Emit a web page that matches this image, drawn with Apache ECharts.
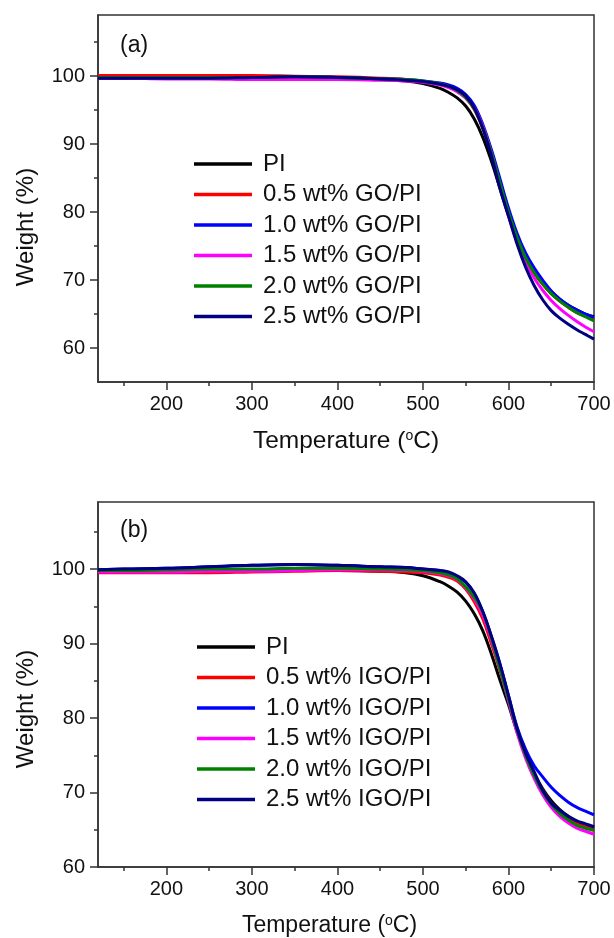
<!DOCTYPE html>
<html>
<head>
<meta charset="utf-8">
<script src="https://cdn.jsdelivr.net/npm/echarts@6/dist/echarts.min.js"></script>
<style>
html,body{margin:0;padding:0;background:#fff;}
#chart{width:614px;height:938px;}
</style>
</head>
<body>
<div id="chart"></div>
<script>
// ---- Data ----
const temps = [120,150,200,250,300,350,400,450,480,500,520,530,540,550,560,570,580,590,600,610,620,630,640,650,660,670,680,690,700];

const namesA = ['PI','0.5 wt% GO/PI','1.0 wt% GO/PI','1.5 wt% GO/PI','2.0 wt% GO/PI','2.5 wt% GO/PI'];
const namesB = ['PI','0.5 wt% IGO/PI','1.0 wt% IGO/PI','1.5 wt% IGO/PI','2.0 wt% IGO/PI','2.5 wt% IGO/PI'];

// Panel (a)
const a_PI   = [99.7,99.7,99.7,99.7,99.8,99.9,99.8,99.5,99.3,98.9,98.2,97.6,96.8,95.6,93.7,91.0,87.5,83.5,79.5,76.0,73.3,71.3,69.7,68.3,67.2,66.3,65.6,65.0,64.6];
const a_GO05 = [100.1,100.1,100.1,100.1,100.1,100.0,99.9,99.7,99.5,99.2,98.8,98.4,97.8,96.8,95.1,92.3,88.6,84.3,80.0,76.3,73.3,71.1,69.4,68.0,66.9,66.0,65.2,64.7,64.2];
const a_GO10 = [99.8,99.8,99.8,99.8,99.8,99.9,99.8,99.6,99.5,99.3,99.0,98.7,98.2,97.3,95.7,92.9,89.2,84.9,80.6,76.9,74.0,71.8,70.0,68.4,67.2,66.3,65.6,65.0,64.5];
const a_GO15 = [99.7,99.7,99.6,99.6,99.5,99.5,99.5,99.4,99.3,99.1,98.7,98.3,97.7,96.8,95.3,92.6,88.7,84.1,79.5,75.6,72.6,70.3,68.5,67.0,65.8,64.8,63.9,63.1,62.4];
const a_GO20 = [99.8,99.8,99.8,99.8,99.8,99.9,99.8,99.6,99.5,99.3,98.9,98.5,97.9,96.9,95.2,92.4,88.7,84.3,80.0,76.3,73.3,71.1,69.4,68.0,66.9,66.0,65.2,64.6,64.0];
const a_GO25 = [99.7,99.7,99.7,99.7,99.8,99.9,99.8,99.6,99.4,99.2,98.8,98.5,98.0,97.1,95.3,92.3,88.3,83.5,79.4,75.3,71.9,69.2,67.1,65.5,64.4,63.5,62.7,62.0,61.3];

// Panel (b)
const b_PI    = [99.6,99.6,99.6,99.6,99.7,99.8,99.8,99.7,99.5,99.1,98.3,97.7,96.9,95.7,94.0,91.7,88.6,85.1,81.8,78.2,75.2,72.6,70.5,68.9,67.7,66.8,66.1,65.7,65.3];
const b_IGO05 = [99.5,99.5,99.5,99.5,99.6,99.7,99.8,99.7,99.6,99.5,99.2,98.9,98.4,97.3,95.6,93.3,90.0,86.4,82.5,78.5,75.2,72.5,70.3,68.6,67.4,66.5,65.8,65.4,65.0];
const b_IGO10 = [99.9,100.0,100.1,100.3,100.5,100.6,100.5,100.3,100.2,100.0,99.8,99.5,99.0,98.2,96.7,94.2,90.9,87.2,83.0,78.8,75.8,73.6,72.1,70.7,69.6,68.7,68.0,67.5,67.0];
const b_IGO15 = [99.6,99.6,99.6,99.7,99.7,99.8,99.9,99.9,99.8,99.7,99.4,99.1,98.6,97.5,96.0,93.8,90.5,86.5,82.3,78.0,74.6,71.9,69.7,68.0,66.8,65.9,65.2,64.8,64.4];
const b_IGO20 = [99.8,99.8,99.9,100.0,100.0,100.1,100.1,100.0,99.9,99.8,99.5,99.2,98.7,97.6,96.2,94.2,90.8,86.6,82.6,78.4,75.0,72.3,70.1,68.4,67.2,66.3,65.6,65.2,64.9];
const b_IGO25 = [99.9,100.0,100.1,100.3,100.5,100.6,100.5,100.3,100.2,100.0,99.8,99.6,99.1,98.3,96.8,94.3,91.0,87.3,83.0,78.6,75.3,72.8,70.3,68.6,67.6,66.8,66.2,65.8,65.4];

const xMajor = [200,300,400,500,600,700];
const xMinor = [150,250,350,450,550,650];
const yMajorA = [60,70,80,90,100];
const yMinorA = [65,75,85,95,105];
const yMajorB = [60,70,80,90,100];
const yMinorB = [65,75,85,95,105];

const colors = ['#000000','#ff0000','#0000ff','#ff00ff','#008000','#000080'];

// ---- Build ----
const FONT = '"Liberation Sans", Arial, sans-serif';
const pair = arr => arr.map((v,i)=>[temps[i], v]);
const seriesA = [a_PI,a_GO05,a_GO10,a_GO15,a_GO20,a_GO25];
const seriesB = [b_PI,b_IGO05,b_IGO10,b_IGO15,b_IGO20,b_IGO25];

function mkX(grid, major, name, namePad, fs){
  return [{
    gridIndex: grid, type:'value', min:120, max:700, position:'bottom',
    axisLine:{lineStyle:{color:'#333',width:1.5}},
    axisTick:{length:8, customValues: major, lineStyle:{color:'#333',width:1.5}},
    axisLabel:{customValues: major, fontSize:20, color:'#111', margin:12, fontFamily:FONT},
    splitLine:{show:false},
    name: name, nameLocation:'middle', nameGap: 47,
    nameTextStyle:{fontFamily:FONT, color:'#111', padding: namePad,
      rich:{t:{fontSize:fs, fontFamily:FONT, color:'#111'}, s:{fontSize:14, fontFamily:FONT, color:'#111', verticalAlign:'top', padding:[0,0,8,0]}}}
  },{
    gridIndex: grid, type:'value', min:120, max:700, position:'bottom', offset:0,
    axisLine:{show:false},
    axisTick:{length:4, customValues: xMinor, lineStyle:{color:'#333',width:1.5}},
    axisLabel:{show:false}, splitLine:{show:false}
  }];
}
function mkY(grid, min, major, minor){
  return [{
    gridIndex: grid, type:'value', min:min, max:109, position:'left',
    axisLine:{lineStyle:{color:'#333',width:1.5}},
    axisTick:{length:8, customValues: major, lineStyle:{color:'#333',width:1.5}},
    axisLabel:{customValues: major, fontSize:20, color:'#111', margin:13, fontFamily:FONT},
    splitLine:{show:false}
  },{
    gridIndex: grid, type:'value', min:min, max:109, position:'left', offset:0,
    axisLine:{show:false},
    axisTick:{length:4, customValues: minor, lineStyle:{color:'#333',width:1.5}},
    axisLabel:{show:false}, splitLine:{show:false}
  }];
}

const xName = '{t|Temperature (}{s|o}{t|C)}';
const series = [];
seriesA.forEach((arr,i)=>series.push({
  name:namesA[i], type:'line', xAxisIndex:0, yAxisIndex:0, data:pair(arr),
  showSymbol:false, smooth:0.4, color:colors[i],
  lineStyle:{width:3, color:colors[i]}
}));
seriesB.forEach((arr,i)=>series.push({
  name:namesB[i], type:'line', xAxisIndex:2, yAxisIndex:2, data:pair(arr),
  showSymbol:false, smooth:0.4, color:colors[i],
  lineStyle:{width:3, color:colors[i]}
}));

const legendCommon = {
  orient:'vertical', icon:'rect', itemWidth:58, itemHeight:3.5, itemGap:6.5,
  selectedMode:false, padding:0,
  textStyle:{fontSize:24, lineHeight:24, color:'#111', fontFamily:FONT, padding:[0,0,0,6]}
};

const option = {
  animation:false,
  backgroundColor:'#fff',
  grid:[
    {left:98, top:15, width:496, height:367, show:true, borderColor:'#333', borderWidth:1.5, backgroundColor:'transparent'},
    {left:98, top:502, width:496, height:367, show:true, borderColor:'#333', borderWidth:1.5, backgroundColor:'transparent'}
  ],
  xAxis: [...mkX(0, xMajor, xName, [0,0,0,0], 24.5), ...mkX(1, xMajor, xName, [0,33,0,0], 23)],
  yAxis: [...mkY(0, 55, yMajorA, yMinorA), ...mkY(1, 60, yMajorB, yMinorB)],
  title:[
    {text:'(a)', left:120, top:34, padding:0, textStyle:{fontSize:23, fontWeight:'normal', color:'#111', fontFamily:FONT}},
    {text:'(b)', left:120, top:519, padding:0, textStyle:{fontSize:23, fontWeight:'normal', color:'#111', fontFamily:FONT}}
  ],
  legend:[
    Object.assign({}, legendCommon, {data:namesA, left:194, top:152}),
    Object.assign({}, legendCommon, {data:namesB, left:197, top:635})
  ],
  graphic:[
    {type:'text', x:26, y:227, rotation:Math.PI/2, style:{text:'Weight (%)', font:'24px ' + FONT, fill:'#111', align:'center', verticalAlign:'middle'}},
    {type:'text', x:26, y:709, rotation:Math.PI/2, style:{text:'Weight (%)', font:'24px ' + FONT, fill:'#111', align:'center', verticalAlign:'middle'}}
  ],
  series: series
};

const chart = echarts.init(document.getElementById('chart'), null, {renderer:'canvas'});
chart.setOption(option);
</script>
</body>
</html>
